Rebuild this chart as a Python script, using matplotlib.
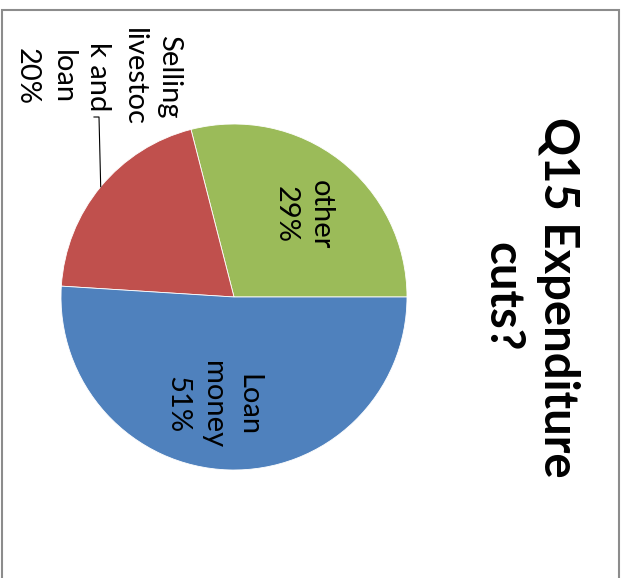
#!/usr/bin/env python3
import matplotlib
matplotlib.use("Agg")
import matplotlib.pyplot as plt
from matplotlib.patches import Rectangle
import numpy as np

# data (slices in drawing order, counter-clockwise from 3 o'clock)
names = ["other", "Selling\nlivestoc\nk and\nloan", "Loan\nmoney"]
shares = [29, 20, 51]
colors = ["#9BBB59", "#C0504D", "#4F81BD"]
title = "Q15 Expenditure\ncuts?"

W, H = 621, 578
plt.rcParams["font.family"] = ["Lato", "DejaVu Sans"]

fig = plt.figure(figsize=(W / 100, H / 100), dpi=100)
ax = fig.add_axes([0, 0, 1, 1])

# the whole chart is shown turned 90 degrees clockwise
cx, cy, r = 234, H - 297, 173
wedges, _ = ax.pie(shares, colors=colors, startangle=0, counterclock=True,
                   center=(cx, cy), radius=r, frame=True,
                   wedgeprops=dict(linewidth=0.6, edgecolor="white"))
ax.set_xlim(0, W)
ax.set_ylim(0, H)
ax.set_aspect("equal")
ax.axis("off")

labels = [f"{n}\n{s}%" for n, s in zip(names, shares)]
label_pos = [(303, H - 215), (98, H - 77), (213, H - 405)]
for lab, (x, y) in zip(labels, label_pos):
    ax.text(x, y, lab, rotation=-90, ha="center", va="center",
            multialignment="center", fontsize=21, color="black",
            linespacing=1.45)

# leader line for the outside label
w = wedges[1]
mid = np.deg2rad((w.theta1 + w.theta2) / 2)
ex, ey = cx + r * np.cos(mid), cy + r * np.sin(mid)
ax.plot([ex, 99, 94], [ey, H - 117, H - 117], color="black", lw=0.8)

ax.text(530, H - 297, title, rotation=-90, ha="center", va="center",
        multialignment="center", fontsize=34, fontweight="bold",
        linespacing=1.32)

fig.patches.append(Rectangle((2 / W, -0.1), 617 / W, 1.1 - 10 / H,
                             transform=fig.transFigure, fill=False,
                             edgecolor="#8c8c8c", lw=1.5))

fig.savefig("out.png", dpi=100)
